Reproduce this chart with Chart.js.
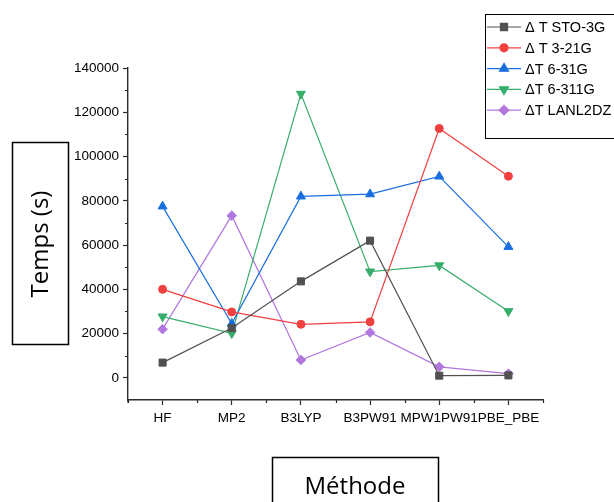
<!DOCTYPE html>
<html>
<head>
<meta charset="utf-8">
<script src="https://cdn.jsdelivr.net/npm/chart.js@4"></script>
<style>
  html, body { margin: 0; padding: 0; background: #fff; }
  #wrap { width: 614px; height: 502px; }
</style>
</head>
<body>
<div id="wrap"><canvas id="timing-chart" width="614" height="502"></canvas></div>
<script>
// methods on the x axis
const methods = ["HF", "MP2", "B3LYP", "B3PW91", "MPW1PW91", "PBE_PBE"];

// computation time (s) per basis set
const sto3g = [6900, 22500, 43600, 62000, 1000, 1100];
const b321g = [40000, 29800, 24200, 25300, 112700, 91100];
const b631g = [77500, 24500, 82000, 83000, 91000, 59200];
const b6311g = [27700, 20100, 128300, 48000, 50800, 30100];
const lanl2dz = [22000, 73300, 8100, 20500, 5000, 1900];

const seriesNames = ["\u0394 T STO-3G", "\u0394 T 3-21G", "\u0394T 6-31G", "\u0394T 6-311G", "\u0394T LANL2DZ"];
const yTicks = [0, 20000, 40000, 60000, 80000, 100000, 120000, 140000];

const axisColor = "#2b2b2b";
const tickFont = { family: "'Liberation Sans', Arial, sans-serif", size: 13.5 };

function series(label, values, color, style, size, rotation) {
    return {
        label: label,
        data: values,
        borderColor: color,
        backgroundColor: color,
        borderWidth: 1.2,
        pointStyle: style,
        pointRadius: size,
        pointRotation: rotation || 0,
        pointBorderWidth: 1,
        tension: 0,
        fill: false,
    };
}

// minor ticks, boxed axis titles and the legend box
const decorations = {
    id: "decorations",
    afterDraw(chart) {
        const ctx = chart.ctx;
        const xs = chart.scales.x;
        const ys = chart.scales.y;
        const area = chart.chartArea;

        ctx.save();
        ctx.strokeStyle = axisColor;
        ctx.lineWidth = 1.2;
        ctx.beginPath();
        for (let v = 10000; v < 140000; v += 20000) {
            const py = Math.round(ys.getPixelForValue(v)) + 0.5;
            ctx.moveTo(area.left - 3, py);
            ctx.lineTo(area.left, py);
        }
        const step = xs.getPixelForValue(1) - xs.getPixelForValue(0);
        for (let i = 0; i <= methods.length; i++) {
            const px = Math.round(xs.getPixelForValue(0) - step / 2 + i * step) + 0.5;
            ctx.moveTo(px, area.bottom);
            ctx.lineTo(px, area.bottom + 3);
        }
        // y axis runs slightly past the x axis
        ctx.moveTo(area.left, area.bottom);
        ctx.lineTo(area.left, area.bottom + 3);
        ctx.stroke();

        // axis titles in frames
        ctx.strokeStyle = "#000";
        ctx.lineWidth = 1.5;
        ctx.strokeRect(12.5, 142.5, 56, 202);
        ctx.strokeRect(272.5, 457.5, 166, 60);

        ctx.fillStyle = "#000";
        ctx.font = "24px 'Open Sans', sans-serif";
        ctx.textAlign = "center";
        ctx.textBaseline = "middle";
        ctx.fillText("M\u00e9thode", 355, 487);
        ctx.save();
        ctx.translate(41, 244);
        ctx.rotate(-Math.PI / 2);
        ctx.fillText("Temps (s)", 0, 0);
        ctx.restore();

        // legend
        ctx.lineWidth = 1;
        ctx.strokeStyle = "#000";
        ctx.strokeRect(485.5, 14.5, 140, 124);
        ctx.font = "14.5px 'Liberation Sans', Arial, sans-serif";
        ctx.textAlign = "left";
        chart.data.datasets.forEach((ds, i) => {
            const ly = 27 + i * 20.8;
            ctx.strokeStyle = ds.borderColor;
            ctx.fillStyle = ds.backgroundColor;
            ctx.lineWidth = 1.2;
            ctx.beginPath();
            ctx.moveTo(487, ly);
            ctx.lineTo(521, ly);
            ctx.stroke();
            Chart.helpers.drawPoint(ctx, {
                pointStyle: ds.pointStyle,
                radius: ds.pointRadius,
                rotation: ds.pointRotation,
                borderWidth: 1,
            }, 504, ly);
            ctx.fillStyle = "#000";
            ctx.fillText(seriesNames[i], 525, ly + 1);
        });
        ctx.restore();
    },
};

new Chart(document.getElementById("timing-chart"), {
    type: "line",
    data: {
        labels: methods,
        datasets: [
            series(seriesNames[0], sto3g, "#515151", "rect", 5),
            series(seriesNames[1], b321g, "#F14040", "circle", 4),
            series(seriesNames[2], b631g, "#1A6FDF", "triangle", 5.2),
            series(seriesNames[3], b6311g, "#37AD6B", "triangle", 5.2, 180),
            series(seriesNames[4], lanl2dz, "#B177DE", "rectRot", 4.8),
        ],
    },
    options: {
        responsive: false,
        animation: false,
        layout: { padding: { left: 0, right: 71, top: 68, bottom: 0 } },
        plugins: {
            legend: { display: false },
            tooltip: { enabled: false },
        },
        scales: {
            x: {
                type: "category",
                offset: true,
                afterFit: (s) => { s.height = 102; },
                border: { color: axisColor, width: 1.4 },
                grid: { offset: false, drawOnChartArea: false, tickLength: 5, tickColor: axisColor, tickWidth: 1.2 },
                ticks: { font: tickFont, color: "#000", padding: 5, maxRotation: 0, minRotation: 0, autoSkip: false },
            },
            y: {
                min: -10000,
                max: 140000,
                afterBuildTicks: (s) => { s.ticks = yTicks.map((v) => ({ value: v })); },
                afterFit: (s) => { s.width = 128; },
                border: { color: axisColor, width: 1.4 },
                grid: { drawOnChartArea: false, tickLength: 5, tickColor: axisColor, tickWidth: 1.2 },
                ticks: { font: tickFont, color: "#000", padding: 4, callback: (v) => String(v) },
            },
        },
    },
    plugins: [decorations],
});
</script>
</body>
</html>
